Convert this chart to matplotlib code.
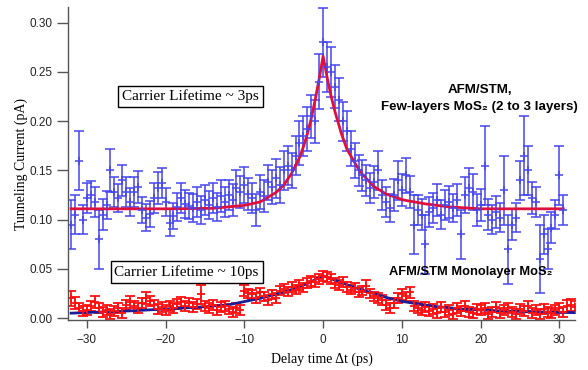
import numpy as np
import matplotlib
matplotlib.use("Agg")
import matplotlib.pyplot as plt

# few-layer MoS2 (blue points), delay grid -32 .. 30.5 ps
blue_t = np.arange(-32.0, 30.51, 0.5)
blue_i = [0.095, 0.105, 0.160, 0.100, 0.122, 0.125, 0.118, 0.080, 0.105, 0.115,
          0.150, 0.128, 0.122, 0.140, 0.128, 0.118, 0.128, 0.133, 0.110, 0.102,
          0.106, 0.122, 0.132, 0.137, 0.118, 0.097, 0.104, 0.113, 0.122, 0.116,
          0.114, 0.112, 0.118, 0.110, 0.120, 0.115, 0.122, 0.113, 0.124, 0.118,
          0.125, 0.120, 0.132, 0.128, 0.135, 0.126, 0.122, 0.110, 0.128, 0.124,
          0.138, 0.133, 0.142, 0.135, 0.150, 0.155, 0.150, 0.165, 0.178, 0.185,
          0.192, 0.205, 0.200, 0.240, 0.280, 0.255, 0.250, 0.235, 0.222, 0.200,
          0.190, 0.172, 0.160, 0.150, 0.145, 0.140, 0.132, 0.138, 0.150, 0.125,
          0.118, 0.112, 0.125, 0.140, 0.130, 0.145, 0.128, 0.095, 0.110, 0.105,
          0.075, 0.108, 0.112, 0.120, 0.105, 0.115, 0.118, 0.112, 0.120, 0.085,
          0.125, 0.132, 0.128, 0.110, 0.115, 0.155, 0.105, 0.100, 0.108, 0.102,
          0.130, 0.070, 0.095, 0.102, 0.140, 0.165, 0.150, 0.122, 0.118, 0.060,
          0.085, 0.070, 0.092, 0.105, 0.145, 0.110]
blue_err = [0.025, 0.020, 0.030, 0.015, 0.015, 0.014, 0.015, 0.030, 0.016, 0.014,
            0.022, 0.015, 0.014, 0.016, 0.015, 0.014, 0.015, 0.016, 0.013, 0.014,
            0.013, 0.015, 0.016, 0.015, 0.014, 0.014, 0.013, 0.014, 0.015, 0.014,
            0.013, 0.014, 0.015, 0.014, 0.015, 0.014, 0.015, 0.014, 0.016, 0.015,
            0.015, 0.016, 0.018, 0.016, 0.018, 0.016, 0.015, 0.016, 0.017, 0.016,
            0.018, 0.017, 0.020, 0.018, 0.020, 0.020, 0.018, 0.020, 0.022, 0.020,
            0.022, 0.022, 0.022, 0.028, 0.035, 0.025, 0.025, 0.022, 0.022, 0.020,
            0.020, 0.018, 0.018, 0.016, 0.016, 0.016, 0.015, 0.016, 0.020, 0.015,
            0.015, 0.014, 0.016, 0.020, 0.016, 0.018, 0.016, 0.030, 0.015, 0.016,
            0.030, 0.015, 0.015, 0.016, 0.015, 0.015, 0.016, 0.014, 0.016, 0.025,
            0.018, 0.020, 0.018, 0.016, 0.016, 0.040, 0.016, 0.015, 0.016, 0.015,
            0.035, 0.035, 0.016, 0.015, 0.020, 0.040, 0.025, 0.016, 0.015, 0.035,
            0.020, 0.020, 0.016, 0.015, 0.030, 0.015]

# monolayer MoS2 (red points), delay grid -32 .. 32 ps
red_t = np.arange(-32.0, 32.01, 0.5)
red_i = [0.020, 0.015, 0.010, 0.007, 0.008, 0.012, 0.016, 0.010, 0.006, 0.008,
         0.004, 0.007, 0.010, 0.005, 0.013, 0.016, 0.012, 0.010, 0.015, 0.020,
         0.017, 0.013, 0.009, 0.011, 0.008, 0.012, 0.010, 0.014, 0.016, 0.012,
         0.015, 0.011, 0.014, 0.024, 0.012, 0.010, 0.013, 0.008, 0.011, 0.012,
         0.009, 0.006, 0.010, 0.008, 0.028, 0.025, 0.024, 0.020, 0.026, 0.022,
         0.018, 0.024, 0.020, 0.028, 0.030, 0.027, 0.032, 0.029, 0.034, 0.031,
         0.036, 0.038, 0.037, 0.040, 0.043, 0.042, 0.040, 0.036, 0.034, 0.037,
         0.032, 0.029, 0.031, 0.026, 0.028, 0.033, 0.025, 0.022, 0.020, 0.018,
         0.013, 0.010, 0.015, 0.020, 0.024, 0.022, 0.026, 0.012, 0.010, 0.008,
         0.011, 0.007, 0.009, 0.005, 0.011, 0.006, 0.008, 0.004, 0.010, 0.007,
         0.012, 0.006, 0.005, 0.009, 0.008, 0.010, 0.004, 0.006, 0.011, 0.005,
         0.008, 0.010, 0.006, 0.004, 0.009, 0.007, 0.012, 0.005, 0.008, 0.004,
         0.009, 0.006, 0.005, 0.008, 0.010, 0.006, 0.012, 0.013, 0.011]
red_err = [0.008, 0.006, 0.005, 0.005, 0.005, 0.005, 0.006, 0.005, 0.005, 0.005,
           0.005, 0.005, 0.005, 0.005, 0.005, 0.006, 0.005, 0.005, 0.005, 0.006,
           0.005, 0.005, 0.005, 0.005, 0.005, 0.005, 0.005, 0.005, 0.005, 0.005,
           0.005, 0.005, 0.005, 0.010, 0.005, 0.005, 0.005, 0.005, 0.005, 0.005,
           0.005, 0.005, 0.005, 0.005, 0.006, 0.005, 0.005, 0.005, 0.005, 0.005,
           0.005, 0.005, 0.005, 0.005, 0.005, 0.005, 0.005, 0.005, 0.005, 0.005,
           0.005, 0.005, 0.005, 0.005, 0.005, 0.005, 0.005, 0.005, 0.005, 0.005,
           0.005, 0.005, 0.005, 0.005, 0.005, 0.006, 0.005, 0.005, 0.005, 0.005,
           0.005, 0.005, 0.005, 0.005, 0.006, 0.005, 0.006, 0.005, 0.005, 0.005,
           0.005, 0.005, 0.005, 0.005, 0.005, 0.005, 0.005, 0.005, 0.005, 0.005,
           0.005, 0.005, 0.005, 0.005, 0.005, 0.005, 0.005, 0.005, 0.005, 0.005,
           0.005, 0.005, 0.005, 0.005, 0.005, 0.005, 0.005, 0.005, 0.005, 0.005,
           0.005, 0.005, 0.005, 0.005, 0.005, 0.005, 0.006, 0.006, 0.006]

# fit curves
fit3_t = [-32, -20, -14, -10, -8, -6, -5, -4, -3, -2.5, -2, -1.5, -1, -0.5, 0,
          0.5, 1, 1.5, 2.3, 3, 4.3, 5, 6.4, 8, 10.2, 13, 16, 20, 30.5]
fit3_i = [0.111, 0.111, 0.1115, 0.1145, 0.118, 0.1275, 0.135, 0.147, 0.163, 0.174,
          0.187, 0.203, 0.222, 0.243, 0.266, 0.245, 0.226, 0.210, 0.188, 0.172,
          0.154, 0.146, 0.134, 0.126, 0.120, 0.116, 0.113, 0.111, 0.111]
fit10_t = [-32, -24, -16, -12, -8, -6, -4, -2, -1, 0, 1, 2, 4, 6, 8, 10, 14,
           18, 22, 26, 32]
fit10_i = [0.005, 0.0075, 0.011, 0.0135, 0.020, 0.024, 0.029, 0.035, 0.039, 0.043,
           0.040, 0.037, 0.031, 0.026, 0.021, 0.017, 0.012, 0.009, 0.0075, 0.0065,
           0.0055]

serif = ['Liberation Serif', 'DejaVu Serif']
sans = ['Liberation Sans', 'DejaVu Sans']

fig = plt.figure(figsize=(5.88, 3.70), dpi=100)
ax = fig.add_axes([0.1156, 0.135, 0.8624, 0.846])

ax.errorbar(blue_t, blue_i, yerr=blue_err, fmt='+', color='#4646ee', alpha=0.85,
            ms=6, mew=1.3, elinewidth=1.3, capsize=3.5, capthick=1.3)
ax.errorbar(red_t, red_i, yerr=red_err, fmt='+', color='#ff1010',
            ms=6, mew=1.3, elinewidth=1.3, capsize=3.5, capthick=1.3)
ax.plot(fit3_t, fit3_i, color='#e0103c', lw=2)
ax.plot(fit10_t, fit10_i, color='#1c1c96', lw=2)

ax.set_xlim(-32.4, 32.0)
ax.set_ylim(-0.002, 0.316)
ax.set_xticks([-30, -20, -10, 0, 10, 20, 30])
ax.set_yticks([0.00, 0.05, 0.10, 0.15, 0.20, 0.25, 0.30])
ax.set_yticklabels(['0.00', '0.05', '0.10', '0.15', '0.20', '0.25', '0.30'])
for s in ['top', 'right']:
    ax.spines[s].set_visible(False)
for s in ['left', 'bottom']:
    ax.spines[s].set_color('#555555')
    ax.spines[s].set_linewidth(1)
ax.tick_params(axis='y', direction='out', length=8, width=1, color='#555555', pad=3)
ax.tick_params(axis='x', direction='out', length=6, width=1, color='#555555', pad=4)
for lab in ax.get_xticklabels() + ax.get_yticklabels():
    lab.set_family(sans)
    lab.set_fontsize(8.5)
    lab.set_color('#222222')

ax.set_xlabel('Delay time \u0394t (ps)', family=serif, fontsize=10, labelpad=5)
ax.set_ylabel('Tunneling Current (pA)', family=serif, fontsize=10, labelpad=1)

box = dict(boxstyle='square,pad=0.25', facecolor='white', edgecolor='black', lw=1)
ax.text(-25.5, 0.225, 'Carrier Lifetime ~ 3ps', family=serif, fontsize=11,
        va='center', ha='left', bbox=box)
ax.text(-26.5, 0.047, 'Carrier Lifetime ~ 10ps', family=serif, fontsize=11,
        va='center', ha='left', bbox=box)

ax.text(19.9, 0.2317, 'AFM/STM,', family=sans, fontsize=9.6, fontweight='bold',
        ha='center', va='center')
ax.text(19.9, 0.2145, 'Few-layers MoS\u2082 (2 to 3 layers)', family=sans, fontsize=9.6,
        fontweight='bold', ha='center', va='center')
ax.text(18.7, 0.0467, 'AFM/STM Monolayer MoS\u2082', family=sans, fontsize=9.3,
        fontweight='bold', ha='center', va='center')

fig.savefig('out.png', dpi=100)
